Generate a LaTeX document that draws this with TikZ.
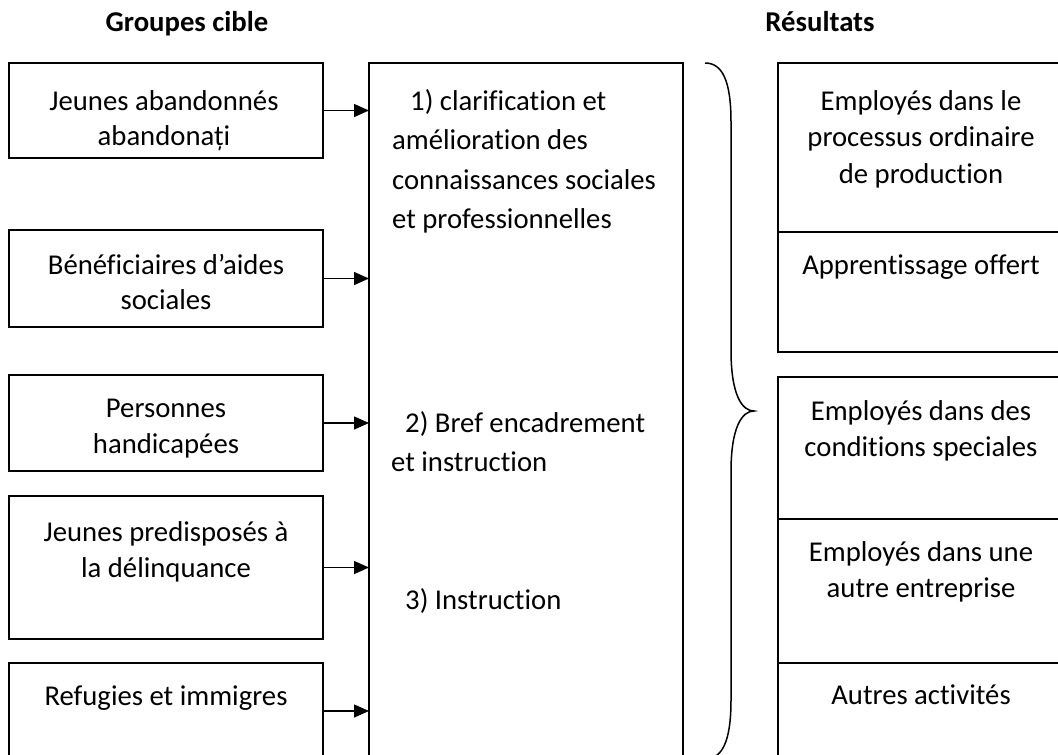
\documentclass[tikz,border=0pt]{standalone}
\usepackage{fontspec}
\setmainfont{Carlito}[Ligatures={NoCommon}]
\usetikzlibrary{arrows.meta}
\tikzset{
  box/.style={draw, line width=1.5pt, inner sep=0pt, outer sep=0pt},
  txt/.style={inner sep=0pt, anchor=north, yshift=27pt, align=center},
  ltxt/.style={inner sep=0pt, anchor=north west, yshift=27pt, align=left},
  sA/.style={font=\fontsize{28.7}{35}\selectfont},
  sB/.style={font=\fontsize{28.7}{36.5}\selectfont},
  sC/.style={font=\fontsize{28.7}{39.5}\selectfont},
  hdr/.style={inner sep=0pt, anchor=base, font=\fontsize{28.7}{35}\selectfont\bfseries},
  arr/.style={line width=1.3pt, -{Triangle[length=15pt,width=13pt]}},
  brace/.style={line width=1.5pt}
}
\begin{document}
\begin{tikzpicture}[x=1pt,y=-1pt]
\useasboundingbox (0,0) rectangle (1058,755);
\clip (0,0) rectangle (1058,755);
% headers
\node[hdr] (h1) at (187,31) {Groupes cible};
\node[hdr] (h2) at (820,31) {Résultats};
% left boxes
\node[box, minimum width=314pt, minimum height=95pt] (l1) at (166,110.5) {};
\node[box, minimum width=314pt, minimum height=97pt] (l2) at (166,278.5) {};
\node[box, minimum width=314pt, minimum height=96pt] (l3) at (166,423) {};
\node[box, minimum width=314pt, minimum height=143pt] (l4) at (166,567.5) {};
\node[box, minimum width=314pt, minimum height=96pt] (l5) at (166,711) {};
\node[txt, sA] (tl1) at (164,110) {\rule{0pt}{27pt}Jeunes abandonnés\\abandonați};
\node[txt, sA] (tl2) at (166,274) {\rule{0pt}{27pt}Bénéficiaires d’aides\\sociales};
\node[txt, sB] (tl3) at (166,417) {\rule{0pt}{27pt}Personnes\\handicapées};
\node[txt, sB] (tl4) at (166,541) {\rule{0pt}{27pt}Jeunes predisposés à\\la délinquance};
\node[txt, sA] (tl5) at (166,705) {\rule{0pt}{27pt}Refugies et immigres};
% central box
\node[box, minimum width=314pt, minimum height=697pt] (c) at (526,411.5) {};
\node[ltxt, sC] (tc1) at (392,110) {\rule{0pt}{27pt}\hspace*{18pt}1) clarification et\\amélioration des\\connaissances sociales\\et professionnelles};
\node[ltxt, sC] (tc2) at (391,432) {\rule{0pt}{27pt}\hspace*{14pt}2) Bref encadrement\\et instruction};
\node[ltxt, sC] (tc3) at (391,609) {\rule{0pt}{27pt}\hspace*{14pt}3) Instruction};
% arrows
\draw[arr] (l1.east) -- (l1.east -| c.west);
\draw[arr] (l2.east) -- (l2.east -| c.west);
\draw[arr] (l3.east) -- (l3.east -| c.west);
\draw[arr] (l4.east) -- (l4.east -| c.west);
\draw[arr] (l5.east) -- (l5.east -| c.west);
% brace
\draw[brace] (705,63) .. controls (722,63) and (731,80) .. (731,122) -- (731,350)
  .. controls (731,395) and (742,411) .. (754,411)
  .. controls (742,411) and (731,427) .. (731,472) -- (731,700)
  .. controls (731,742) and (722,759) .. (705,759);
% right boxes
\node[box, minimum width=286pt, minimum height=169pt] (r1) at (921,147.5) {};
\node[box, minimum width=286pt, minimum height=120pt] (r2) at (921,292) {};
\node[box, minimum width=286pt, minimum height=142pt] (r3) at (921,448) {};
\node[box, minimum width=286pt, minimum height=144pt] (r4) at (921,591) {};
\node[box, minimum width=286pt, minimum height=97pt] (r5) at (921,711.5) {};
\node[txt, sB] (tr1) at (921,110) {\rule{0pt}{27pt}Employés dans le\\processus ordinaire\\de production};
\node[txt, sB] (tr2) at (921,274) {\rule{0pt}{27pt}Apprentissage offert};
\node[txt, sB] (tr3) at (921,420) {\rule{0pt}{27pt}Employés dans des\\conditions speciales};
\node[txt, sB] (tr4) at (921,561) {\rule{0pt}{27pt}Employés dans une\\autre entreprise};
\node[txt, sB] (tr5) at (921,704) {\rule{0pt}{27pt}Autres activités};
\end{tikzpicture}
\end{document}
